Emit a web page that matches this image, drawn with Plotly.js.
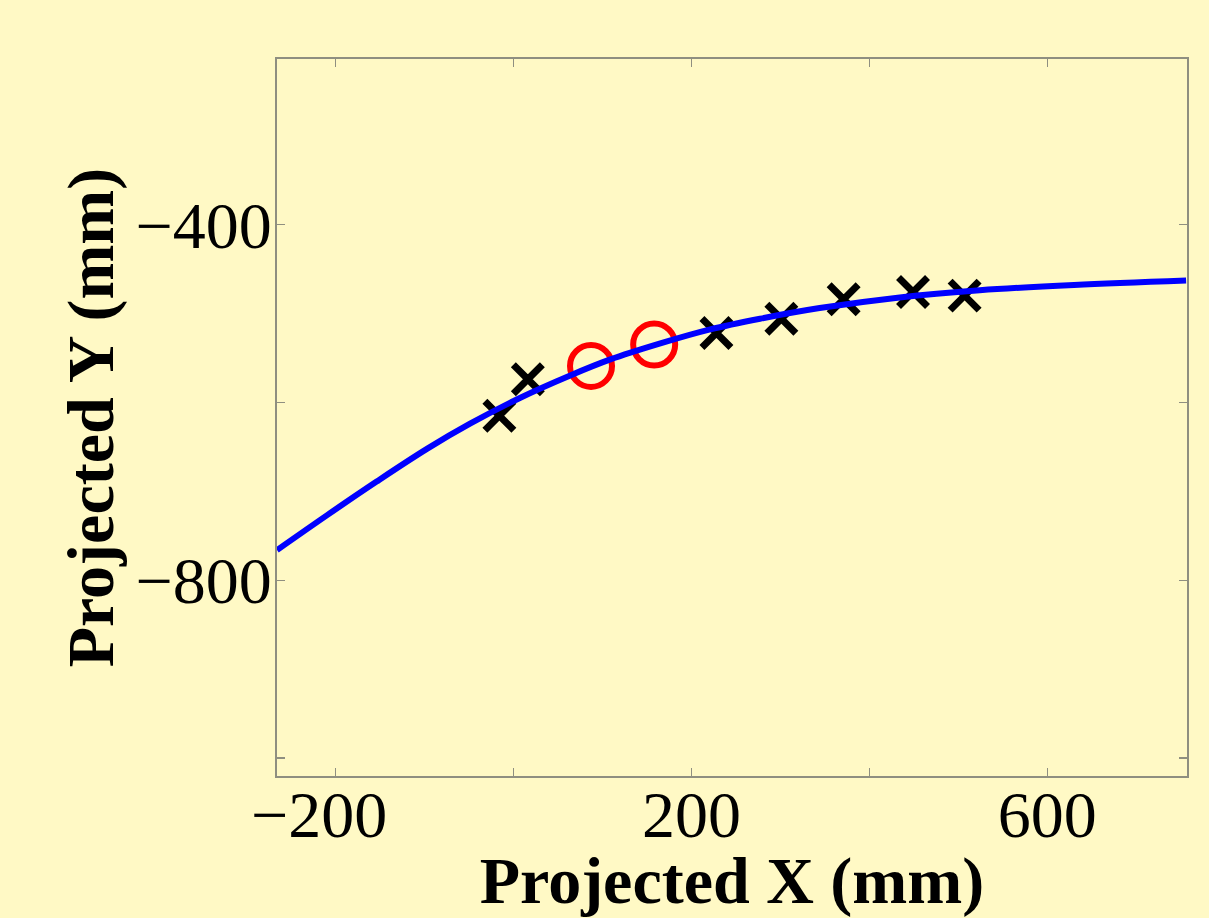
<!DOCTYPE html>
<html>
<head>
<meta charset="utf-8">
<script src="https://cdn.plot.ly/plotly-3.0.1.min.js"></script>
<style>
html,body{margin:0;padding:0;background:#FFF9C5;}
#chart{width:1209px;height:918px;}
</style>
</head>
<body>
<div id="chart"></div>
<script>
// Fitted curve
const curveX = [-266, -210, -154, -97, -49, 7, 63, 108, 164, 221, 277, 344, 434, 524, 630, 756];
const curveY = [-766, -727, -689, -652, -624, -595, -570, -552, -534, -518, -506, -494, -482, -474, -468, -463];

// Measured points (black crosses)
const crossX = [-16, 16, 228, 301, 371, 449, 507];
const crossY = [-615, -574, -522, -506, -484, -476, -480];

// Highlighted points (red circles)
const circleX = [87, 158];
const circleY = [-559, -535];

// Tick labels
const xTickVals = [-200, 0, 200, 400, 600];
const xTickText = ['\u2212200\u00a0\u00a0', '', '200', '', '600'];
const yTickVals = [-1000, -800, -600, -400];
const yTickText = ['', '\u2212800', '', '\u2212400'];

const bg = '#FFF9C5';
const axisColor = '#8f8f80';
const serif = 'Liberation Serif, Times New Roman, serif';

const traces = [
  {
    x: crossX, y: crossY, type: 'scatter', mode: 'markers',
    marker: {symbol: 'x-thin-open', size: 29, color: '#000000', line: {color: '#000000', width: 7}},
    hoverinfo: 'skip', showlegend: false
  },
  {
    x: circleX, y: circleY, type: 'scatter', mode: 'markers',
    marker: {symbol: 'circle-open', size: 42, color: '#FF0000', line: {color: '#FF0000', width: 6}},
    hoverinfo: 'skip', showlegend: false
  },
  {
    x: curveX, y: curveY, type: 'scatter', mode: 'lines',
    line: {color: '#0000FF', width: 6, shape: 'spline', smoothing: 1},
    hoverinfo: 'skip', showlegend: false
  }
];

const layout = {
  width: 1209, height: 918,
  paper_bgcolor: bg, plot_bgcolor: bg,
  margin: {l: 277, r: 22, t: 59, b: 142},
  showlegend: false,
  xaxis: {
    range: [-266, 757], tickmode: 'array', tickvals: xTickVals, ticktext: xTickText,
    ticks: 'inside', ticklen: 8, tickwidth: 1.5, tickcolor: axisColor,
    showline: true, linecolor: axisColor, linewidth: 2, mirror: 'ticks',
    showgrid: false, zeroline: false, ticklabelstandoff: -20,
    tickfont: {family: serif, size: 66, color: '#000000'},
    title: {text: '<b>Projected X (mm)</b>', font: {family: serif, size: 66, color: '#000000'}, standoff: 18},
    automargin: false
  },
  yaxis: {
    range: [-1020, -214], tickmode: 'array', tickvals: yTickVals, ticktext: yTickText,
    ticks: 'inside', ticklen: 8, tickwidth: 1.5, tickcolor: axisColor,
    showline: true, linecolor: axisColor, linewidth: 2, mirror: 'ticks',
    showgrid: false, zeroline: false, ticklabelstandoff: -10,
    tickfont: {family: serif, size: 66, color: '#000000'},
    title: {text: '<b>Projected Y (mm)</b>', font: {family: serif, size: 66, color: '#000000'}, standoff: 0},
    automargin: false
  }
};

Plotly.newPlot('chart', traces, layout, {displayModeBar: false, staticPlot: true});
</script>
</body>
</html>
